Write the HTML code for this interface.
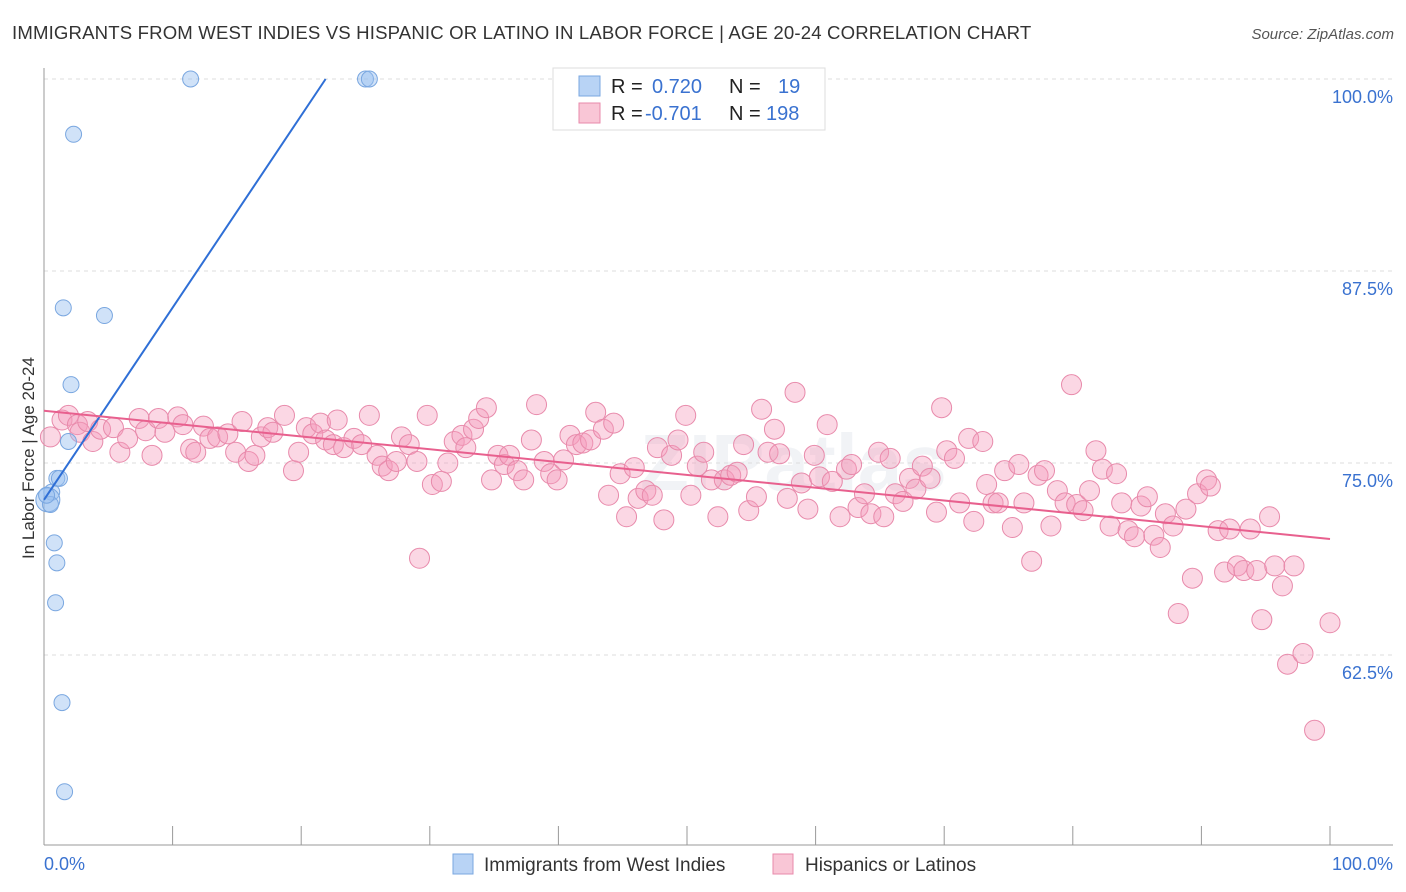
<!DOCTYPE html>
<html><head><meta charset="utf-8">
<style>
body{margin:0;background:#fff;font-family:"Liberation Sans",sans-serif;}
#wrap{position:relative;width:1406px;height:892px;overflow:hidden;}
</style></head>
<body>
<div id="wrap">
<svg id="svg" width="1406" height="892">
<text x="12" y="39" font-size="18.6" fill="#333" letter-spacing="0.15">IMMIGRANTS FROM WEST INDIES VS HISPANIC OR LATINO IN LABOR FORCE | AGE 20-24 CORRELATION CHART</text>
<text x="1394" y="39" font-size="15" fill="#555" font-style="italic" text-anchor="end">Source: ZipAtlas.com</text>
<text x="34" y="458" font-size="17" fill="#333" text-anchor="middle" transform="rotate(-90 34 458)">In Labor Force | Age 20-24</text>
<text x="640" y="490" font-size="80" fill="#e4e8ee" font-weight="bold" opacity="0.5">ZIPatlas</text>
<g id="grid"></g><g id="pts"></g><g id="lines"></g>
<g>
<rect x="553" y="68" width="272" height="62" fill="#fff" stroke="#ddd"/>
<rect x="579" y="76" width="21" height="20" fill="#b8d3f5" stroke="#7aa7e0"/>
<rect x="579" y="103" width="21" height="20" fill="#f9c6d6" stroke="#e88aab"/>
<text y="93" font-size="20"><tspan x="611" fill="#222">R =</tspan><tspan x="652" fill="#3a72d0">0.720</tspan><tspan x="729" fill="#222">N =</tspan><tspan x="778" fill="#3a72d0">19</tspan></text>
<text y="120" font-size="20"><tspan x="611" fill="#222">R =</tspan><tspan x="645" fill="#3a72d0">-0.701</tspan><tspan x="729" fill="#222">N =</tspan><tspan x="766" fill="#3a72d0">198</tspan></text>
</g>
<g>
<rect x="453" y="854" width="20" height="20" fill="#b8d3f5" stroke="#7aa7e0"/>
<text x="484" y="871" font-size="19" fill="#333">Immigrants from West Indies</text>
<rect x="773" y="854" width="20" height="20" fill="#f9c6d6" stroke="#e88aab"/>
<text x="805" y="871" font-size="19" fill="#333">Hispanics or Latinos</text>
</g>
</svg>
</div>
<script>
const yTicks=[100,87.5,75,62.5];
const yTickLabels=["100.0%","87.5%","75.0%","62.5%"];
const xTickCount=10;
const blueX=[11.4,25.0,25.3,2.3,1.5,4.7,2.1,1.9,1.0,0.6,0.3,0.5,0.8,1.0,0.9,1.4,1.6,0.2,1.2];
const blueY=[100,100,100,96.4,85.1,84.6,80.1,76.4,74.0,73.1,72.6,72.3,69.8,68.5,65.9,59.4,53.6,72.9,74.0];
const pinkX=[0.5,1.4,1.9,2.6,2.8,3.4,3.8,4.4,5.4,5.9,6.5,7.4,7.9,8.4,8.9,9.4,10.4,10.8,11.4,11.8,12.4,12.9,13.5,14.3,14.9,15.4,15.9,16.4,16.9,17.4,17.8,18.7,19.4,19.8,20.4,20.9,21.5,21.9,22.5,22.8,23.3,24.1,24.7,25.3,25.9,26.3,26.8,27.4,27.8,28.4,29.0,29.2,29.8,30.2,30.9,31.4,31.9,32.5,32.8,33.4,33.8,34.4,34.8,35.3,35.8,36.2,36.8,37.3,37.9,38.3,38.9,39.4,39.9,40.4,40.9,41.4,41.9,42.5,42.9,43.5,43.9,44.3,44.8,45.3,45.9,46.2,46.8,47.3,47.7,48.2,48.8,49.3,49.9,50.3,50.8,51.3,51.9,52.4,52.9,53.4,53.9,54.4,54.8,55.4,55.8,56.3,56.8,57.2,57.8,58.4,58.9,59.4,59.9,60.3,60.9,61.3,61.9,62.4,62.8,63.3,63.8,64.3,64.9,65.3,65.8,66.2,66.8,67.3,67.8,68.3,68.9,69.4,69.8,70.2,70.8,71.2,71.9,72.3,73.0,73.3,73.8,74.2,74.7,75.3,75.8,76.2,76.8,77.3,77.8,78.3,78.8,79.4,79.9,80.3,80.8,81.3,81.8,82.3,82.9,83.4,83.8,84.3,84.8,85.3,85.8,86.3,86.8,87.2,87.8,88.2,88.8,89.3,89.7,90.4,90.7,91.3,91.8,92.2,92.8,93.3,93.8,94.3,94.7,95.3,95.7,96.3,96.7,97.2,97.9,98.8,100.0];
const pinkY=[76.7,77.8,78.1,77.5,77.0,77.7,76.4,77.2,77.3,75.7,76.6,77.9,77.1,75.5,77.9,77.0,78.0,77.5,75.9,75.7,77.4,76.6,76.7,76.9,75.7,77.7,75.1,75.5,76.7,77.3,77.0,78.1,74.5,75.7,77.3,76.9,77.6,76.5,76.2,77.8,76.0,76.6,76.2,78.1,75.5,74.8,74.5,75.1,76.7,76.2,75.1,68.8,78.1,73.6,73.8,75.0,76.4,76.8,76.0,77.2,77.9,78.6,73.9,75.5,74.9,75.5,74.5,73.9,76.5,78.8,75.1,74.3,73.9,75.2,76.8,76.2,76.3,76.5,78.3,77.2,72.9,77.6,74.3,71.5,74.7,72.7,73.2,72.9,76.0,71.3,75.5,76.5,78.1,72.9,74.8,75.7,73.9,71.5,73.9,74.2,74.4,76.2,71.9,72.8,78.5,75.7,77.2,75.6,72.7,79.6,73.7,72.0,75.5,74.1,77.5,73.8,71.5,74.6,74.9,72.1,73.0,71.7,75.7,71.5,75.3,73.0,72.5,74.0,73.3,74.8,74.0,71.8,78.6,75.8,75.3,72.4,76.6,71.2,76.4,73.6,72.4,72.4,74.5,70.8,74.9,72.4,68.6,74.2,74.5,70.9,73.2,72.4,80.1,72.3,71.9,73.2,75.8,74.6,70.9,74.3,72.4,70.6,70.2,72.2,72.8,70.3,69.5,71.7,70.9,65.2,72.0,67.5,73.0,73.9,73.5,70.6,67.9,70.7,68.3,68.0,70.7,68.0,64.8,71.5,68.3,67.0,61.9,68.3,62.6,57.6,64.6];
const blueLine=[0,72.6,21.9,100];
const pinkLine=[0,78.4,100,70.05];
const X=v=>44+v*12.86, Y=v=>79+(100-v)*15.36;
const NS="http://www.w3.org/2000/svg";
function mk(tag,attrs,parent){const e=document.createElementNS(NS,tag);for(const k in attrs)e.setAttribute(k,attrs[k]);parent.appendChild(e);return e;}
const grid=document.getElementById('grid');
yTicks.forEach((t,i)=>{
 const l=mk('line',{x1:44,x2:1393,y1:Y(t),y2:Y(t),stroke:'#ddd','stroke-dasharray':'4,4'},grid);
 
 
 const tx=mk('text',{x:1393,y:Y(t)+24,'font-size':18,fill:'#3a72d0','text-anchor':'end'},grid);
 tx.textContent=yTickLabels[i];
 
 
});
const ax=mk('line',{x1:44,x2:44,y1:68,y2:845,stroke:'#999'},grid);


const bx=mk('line',{x1:44,x2:1393,y1:845,y2:845,stroke:'#999'},grid);


for(let i=0;i<=xTickCount;i++){
 const t=mk('line',{x1:X(i*10),x2:X(i*10),y1:826,y2:845,stroke:'#999'},grid);
 
 
}
const xl0=mk('text',{x:44,y:870,'font-size':18,fill:'#3a72d0'},grid);xl0.textContent='0.0%';


const xl1=mk('text',{x:1393,y:870,'font-size':18,fill:'#3a72d0','text-anchor':'end'},grid);xl1.textContent='100.0%';


const pts=document.getElementById('pts');
pinkX.forEach((x,i)=>{
 const c=mk('circle',{cx:X(x),cy:Y(pinkY[i]),r:10,fill:'rgba(244,155,188,0.4)',stroke:'#e88aab','stroke-width':1},pts);
 
 
});
blueX.forEach((x,i)=>{
 const c=mk('circle',{cx:X(x),cy:Y(blueY[i]),r:(i==10?12:8),fill:'rgba(150,190,240,0.45)',stroke:'#7aa7e0','stroke-width':1},pts);
 
 
});
const lines=document.getElementById('lines');
const bl=mk('line',{x1:X(blueLine[0]),y1:Y(blueLine[1]),x2:X(blueLine[2]),y2:Y(blueLine[3]),stroke:'#2f6fd6','stroke-width':2},lines);


const pl=mk('line',{x1:X(pinkLine[0]),y1:Y(pinkLine[1]),x2:X(pinkLine[2]),y2:Y(pinkLine[3]),stroke:'#e8608e','stroke-width':2},lines);


</script>
</body></html>
